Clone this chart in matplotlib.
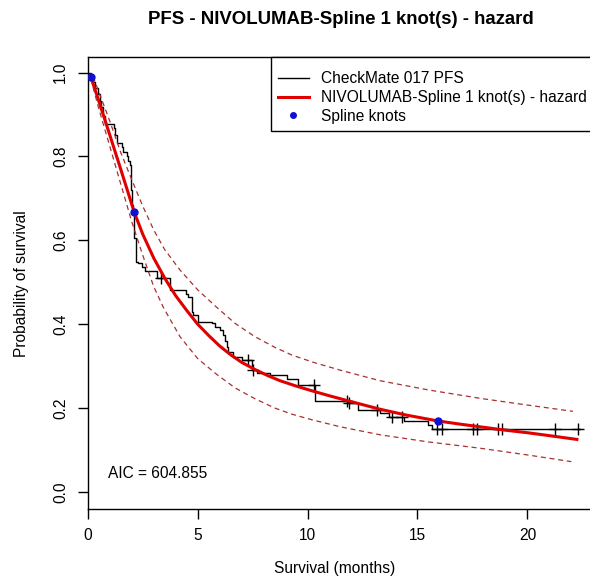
import numpy as np
import matplotlib
matplotlib.use("Agg")
import matplotlib.pyplot as plt

plt.rcParams['font.family'] = ['Liberation Sans', 'DejaVu Sans']

# Kaplan-Meier steps (time in months, survival after the step)
km_time = [0.0, 0.15, 0.25, 0.35, 0.45, 0.55, 0.62, 0.70, 0.80, 1.21, 1.26, 1.32,
           1.55, 1.60, 1.77, 1.85, 1.92, 1.95, 1.98, 2.00, 2.05, 2.11, 2.20, 2.30,
           2.46, 2.61, 3.14, 3.74, 4.45, 4.58, 4.73, 4.80, 5.03, 5.64, 5.79, 6.02,
           6.17, 6.25, 6.32, 6.40, 6.63, 7.00, 7.46, 7.70, 8.30, 9.05, 9.58, 10.34,
           11.86, 12.31, 13.30, 13.70, 14.40, 15.50, 15.65, 22.40]
km_surv = [1.000, 0.993, 0.978, 0.963, 0.948, 0.933, 0.918, 0.896, 0.877, 0.867, 0.852, 0.831,
           0.823, 0.810, 0.800, 0.790, 0.780, 0.750, 0.720, 0.684, 0.670, 0.605, 0.549, 0.545,
           0.537, 0.527, 0.509, 0.481, 0.472, 0.465, 0.430, 0.422, 0.406, 0.402, 0.394, 0.386,
           0.374, 0.360, 0.346, 0.334, 0.321, 0.314, 0.290, 0.283, 0.278, 0.270, 0.255, 0.217,
           0.211, 0.195, 0.188, 0.178, 0.170, 0.160, 0.151, 0.151]
censor_time = [3.32, 7.31, 7.53, 10.30, 11.80, 11.90, 13.15, 13.84, 14.29, 15.90, 16.13,
               17.54, 17.73, 18.68, 18.83, 21.26, 22.30]

# fitted spline survival and its confidence band
fit_time = [0.14, 0.5, 1.0, 1.5, 1.8, 2.11, 2.5, 3.0, 3.5, 4.0, 4.5, 5.0, 5.5, 6.0, 6.5,
            7.0, 7.6, 8.2, 8.75, 9.5, 10.26, 11.0, 11.78, 12.5, 13.3, 14.5, 15.93, 17.0,
            18.0, 19.0, 20.0, 21.0, 22.25]
fit_surv = [0.99, 0.933, 0.852, 0.77, 0.72, 0.668, 0.615, 0.558, 0.51, 0.468, 0.433, 0.40,
            0.373, 0.348, 0.327, 0.309, 0.292, 0.277, 0.265, 0.252, 0.240, 0.229, 0.218,
            0.208, 0.197, 0.183, 0.169, 0.161, 0.154, 0.147, 0.141, 0.134, 0.125]
up_time = [0.25, 0.5, 1.0, 1.5, 2.0, 2.5, 3.0, 3.5, 4.2, 5.0, 5.87, 6.7, 7.61, 8.5, 9.3,
           10.26, 11.5, 13.3, 15.5, 17.85, 20.0, 22.07]
up_surv = [0.99, 0.955, 0.885, 0.81, 0.745, 0.682, 0.625, 0.578, 0.529, 0.482, 0.44, 0.402,
           0.37, 0.345, 0.326, 0.309, 0.29, 0.265, 0.243, 0.223, 0.207, 0.192]
lo_time = [0.14, 0.5, 1.0, 1.5, 2.0, 2.5, 3.0, 3.44, 4.2, 5.0, 5.87, 6.7, 7.61, 8.5, 9.3,
           10.26, 11.5, 13.3, 15.5, 17.85, 20.0, 22.0]
lo_surv = [0.985, 0.915, 0.825, 0.735, 0.645, 0.565, 0.49, 0.44, 0.37, 0.318, 0.28, 0.248,
           0.222, 0.2, 0.185, 0.171, 0.155, 0.136, 0.119, 0.104, 0.088, 0.072]

knot_time = [0.14, 2.11, 15.93]
knot_surv = [0.99, 0.668, 0.169]

aic = 604.855

fig = plt.figure(figsize=(5.9, 5.83), dpi=100)
ax = fig.add_axes([87.7 / 590, 74 / 583, (594 - 87.7) / 590, (509 - 56.7) / 583])

ax.plot(km_time, km_surv, drawstyle='steps-post', color='black', lw=1.0,
        label='CheckMate 017 PFS')
# censor marks sit on the KM curve
idx = np.searchsorted(km_time, censor_time, side='right') - 1
ax.plot(censor_time, np.array(km_surv)[idx], '+', color='black', ms=8, mew=1.0)

ax.plot(fit_time, fit_surv, color='#e00000', lw=2.2,
        label='NIVOLUMAB-Spline 1 knot(s) - hazard')
ax.plot(up_time, up_surv, color='#a83030', lw=0.9, dashes=(4, 3))
ax.plot(lo_time, lo_surv, color='#a83030', lw=0.9, dashes=(4, 3))
ax.plot(knot_time, knot_surv, 'o', color='#1010d0', ms=5, label='Spline knots', zorder=5)

ax.text(0.91, 0.044, 'AIC = %.3f' % aic, fontsize=11.2, va='center', ha='left')

ax.set_xlim(0, 23.03)
ax.set_ylim(-0.041, 1.038)
ax.set_xticks([0, 5, 10, 15, 20])
ax.set_yticks([0.0, 0.2, 0.4, 0.6, 0.8, 1.0])
ax.set_yticklabels(['0.0', '0.2', '0.4', '0.6', '0.8', '1.0'], rotation=90, va='center')
ax.tick_params(direction='out', length=7, width=1, labelsize=11.2, colors='black')
ax.tick_params(axis='x', pad=7)
ax.tick_params(axis='y', pad=7)
for s in ax.spines.values():
    s.set_linewidth(1.0)
    s.set_color('black')

# tiny blank title only pushes the rows down a little, like the R legend
leg = ax.legend(loc='upper right', bbox_to_anchor=(1, 1), borderaxespad=0,
                fontsize=11.2, frameon=True, fancybox=False, framealpha=1,
                edgecolor='black', handlelength=2.0, handletextpad=0.8,
                labelspacing=0.24, borderpad=0.45, markerscale=0.8,
                title=' ', title_fontsize=3)
leg.get_frame().set_linewidth(1.0)

fig.text(340.4 / 590, 1 - 20 / 583, 'PFS - NIVOLUMAB-Spline 1 knot(s) - hazard',
         ha='center', va='center', fontsize=13.4, fontweight='bold')
fig.text(334.7 / 590, 1 - 568 / 583, 'Survival (months)', ha='center', va='center', fontsize=11.2)
fig.text(21.7 / 590, 1 - 284 / 583, 'Probability of survival', ha='center', va='center',
         rotation=90, fontsize=11.2)

fig.savefig('out.png', dpi=100)
